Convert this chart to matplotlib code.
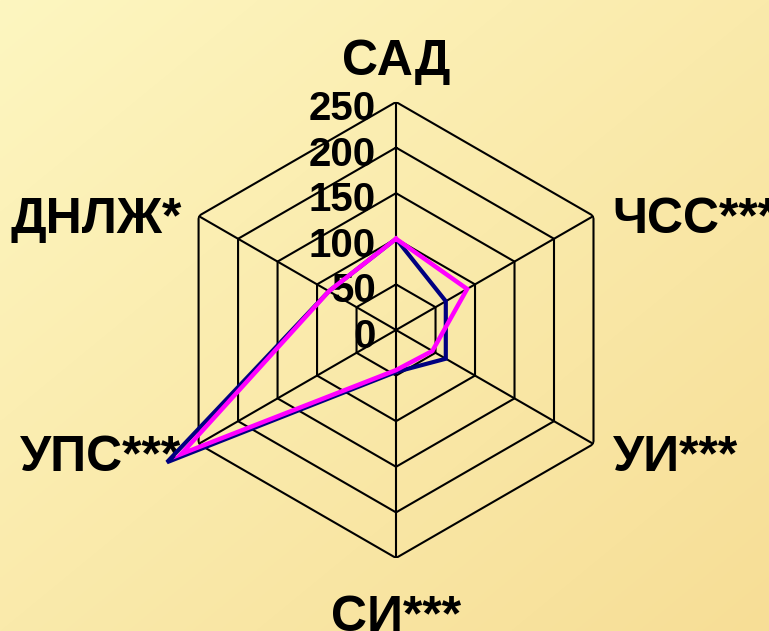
import numpy as np
import matplotlib.pyplot as plt

# axes of the radar, clockwise from the top
categories = ['САД', 'ЧСС***', 'УИ***', 'СИ***', 'УПС***', 'ДНЛЖ*']
series_navy = [100, 63, 63, 46, 290, 85]
series_magenta = [100, 90, 46, 44, 272, 85]
ring_values = [0, 50, 100, 150, 200, 250]

# label placement (pixel offsets from the outer vertex)
label_offsets = [(0, 27), (19, -17), (19, -27), (0, -73), (-17, -27), (-17, -17)]
label_ha = ['center', 'left', 'left', 'center', 'right', 'right']

fig = plt.figure(figsize=(7.69, 6.31), dpi=100)

# pale yellow gradient background
bg = fig.add_axes([0, 0, 1, 1])
gx, gy = np.meshgrid(np.linspace(0, 1, 256), np.linspace(0, 1, 256))
t = (gx + gy) / 2
c0 = np.array([253, 246, 192]) / 255
c1 = np.array([247, 222, 150]) / 255
bg.imshow(c0 + (c1 - c0) * t[..., None], aspect='auto', extent=[0, 1, 0, 1], origin='upper')
bg.axis('off')

ax = fig.add_axes([0.2185, 0.1157, 0.593, 0.7227], projection='polar')
ax.set_facecolor('none')
ax.set_theta_zero_location('N')
ax.set_theta_direction(-1)

angles = np.deg2rad(np.arange(len(categories)) * 60)
closed = np.append(angles, angles[0])

# hexagonal grid
for r in ring_values[1:]:
    ax.plot(closed, [r] * len(closed), color='black', lw=1.5, zorder=1)
for a in angles:
    ax.plot([a, a], [0, ring_values[-1]], color='black', lw=1.5, zorder=1)

ax.set_ylim(0, ring_values[-1])
ax.grid(False)
ax.set_xticks([])
ax.set_yticks([])
ax.spines['polar'].set_visible(False)

font = dict(family='Liberation Sans', fontweight='bold', color='black')

for r in ring_values:
    ax.annotate(str(r), xy=(0, r), xytext=(-20, -18), textcoords='offset pixels',
                ha='right', va='baseline', fontsize=29, zorder=3,
                annotation_clip=False, **font)

for cat, a, off, ha in zip(categories, angles, label_offsets, label_ha):
    ax.annotate(cat, xy=(a, ring_values[-1]), xytext=off, textcoords='offset pixels',
                ha=ha, va='baseline', fontsize=36, zorder=3,
                annotation_clip=False, **font)

ax.plot(closed, series_navy + series_navy[:1], color='#000080', lw=3.0,
        clip_on=False, solid_joinstyle='miter', zorder=4)
ax.plot(closed, series_magenta + series_magenta[:1], color='#FF00FF', lw=3.2,
        clip_on=False, solid_joinstyle='miter', zorder=5)

plt.savefig('out.png', dpi=100)
